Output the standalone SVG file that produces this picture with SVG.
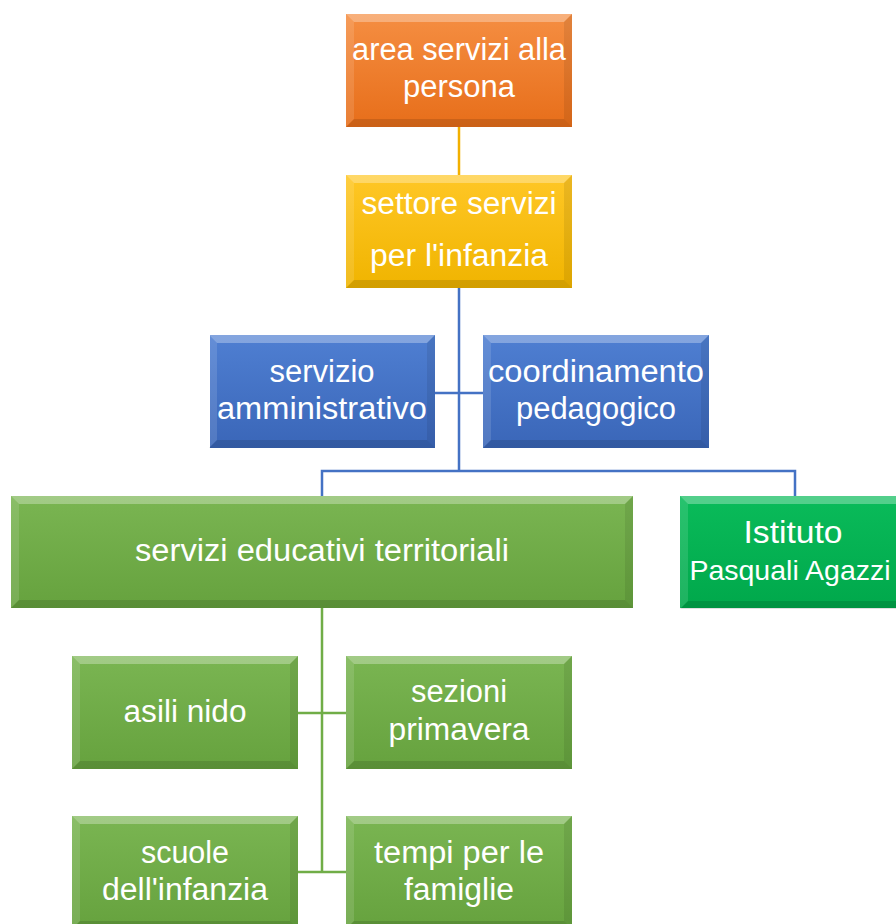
<svg xmlns="http://www.w3.org/2000/svg" xmlns:xlink="http://www.w3.org/1999/xlink" width="896" height="924" viewBox="0 0 896 924">
<style>
.t{font-family:"Liberation Sans","Noto Sans",sans-serif;font-size:31px;fill:#ffffff;text-anchor:middle}
.lb{fill:none;stroke:#4472c4;stroke-width:2.5}
.lg{fill:none;stroke:#70ad47;stroke-width:2.5}
.lo{fill:none;stroke:#f2b000;stroke-width:2.5}
</style>
<defs>
<linearGradient id="gO" x1="0" y1="0" x2="0" y2="1"><stop offset="0" stop-color="#f58e42"/><stop offset="1" stop-color="#e76e1a"/></linearGradient>
<linearGradient id="gY" x1="0" y1="0" x2="0" y2="1"><stop offset="0" stop-color="#ffc726"/><stop offset="1" stop-color="#f0b400"/></linearGradient>
<linearGradient id="gB" x1="0" y1="0" x2="0" y2="1"><stop offset="0" stop-color="#4f7fd2"/><stop offset="1" stop-color="#3a66b8"/></linearGradient>
<linearGradient id="gG" x1="0" y1="0" x2="0" y2="1"><stop offset="0" stop-color="#7ab552"/><stop offset="1" stop-color="#66a23e"/></linearGradient>
<linearGradient id="gI" x1="0" y1="0" x2="0" y2="1"><stop offset="0" stop-color="#0abb5a"/><stop offset="1" stop-color="#00a84b"/></linearGradient>
<g id="bev">
<polygon points="0,0 226,0 218,8 8,8" fill="#ffffff" fill-opacity="0.3"/>
<polygon points="0,0 8,8 8,105 0,113" fill="#ffffff" fill-opacity="0.12"/>
<polygon points="226,0 226,113 218,105 218,8" fill="#000000" fill-opacity="0.08"/>
<polygon points="0,113 8,105 218,105 226,113" fill="#000000" fill-opacity="0.12"/>
</g>
<g id="bevW">
<polygon points="0,0 622,0 614,8 8,8" fill="#ffffff" fill-opacity="0.3"/>
<polygon points="0,0 8,8 8,104 0,112" fill="#ffffff" fill-opacity="0.12"/>
<polygon points="622,0 622,112 614,104 614,8" fill="#000000" fill-opacity="0.08"/>
<polygon points="0,112 8,104 614,104 622,112" fill="#000000" fill-opacity="0.12"/>
</g>
</defs>
<rect width="896" height="924" fill="#ffffff"/>
<g id="connectors">
<path class="lo" d="M459,127 V175"/>
<path class="lb" d="M459,288 V471 M435,393 H483 M322,496 V471 H795 V496"/>
<path class="lg" d="M322,608 V872 M298,713 H346 M298,872 H346"/>
</g>
<g id="n-area">
<rect x="346" y="14" width="226" height="113" fill="url(#gO)"/>
<use href="#bev" x="346" y="14"/>
<text class="t" x="459" y="60" textLength="214" lengthAdjust="spacingAndGlyphs">area servizi alla</text>
<text class="t" x="459" y="97" textLength="112" lengthAdjust="spacingAndGlyphs">persona</text>
</g>
<g id="n-settore">
<rect x="346" y="175" width="226" height="113" fill="url(#gY)"/>
<use href="#bev" x="346" y="175"/>
<text class="t" x="459" y="214" textLength="195" lengthAdjust="spacingAndGlyphs">settore servizi</text>
<text class="t" x="459" y="266" textLength="178" lengthAdjust="spacingAndGlyphs">per l'infanzia</text>
</g>
<g id="n-amm">
<rect x="210" y="335" width="225" height="113" fill="url(#gB)"/>
<use href="#bev" x="209" y="335"/>
<text class="t" x="322" y="382" textLength="105" lengthAdjust="spacingAndGlyphs">servizio</text>
<text class="t" x="322" y="419" textLength="210" lengthAdjust="spacingAndGlyphs">amministrativo</text>
</g>
<g id="n-coord">
<rect x="483" y="335" width="226" height="113" fill="url(#gB)"/>
<use href="#bev" x="483" y="335"/>
<text class="t" x="596" y="382" textLength="216" lengthAdjust="spacingAndGlyphs">coordinamento</text>
<text class="t" x="596" y="419" textLength="160" lengthAdjust="spacingAndGlyphs">pedagogico</text>
</g>
<g id="n-sert">
<rect x="11" y="496" width="622" height="112" fill="url(#gG)"/>
<use href="#bevW" x="11" y="496"/>
<text class="t" x="322" y="561" textLength="374" lengthAdjust="spacingAndGlyphs">servizi educativi territoriali</text>
</g>
<g id="n-istituto">
<rect x="680" y="496" width="226" height="112" fill="url(#gI)"/>
<use href="#bev" x="680" y="496"/>
<text class="t" x="793" y="543" textLength="99" lengthAdjust="spacingAndGlyphs">Istituto</text>
<text class="t" x="790" y="580" style="font-size:28.5px">Pasquali Agazzi</text>
</g>
<g id="n-asili">
<rect x="72" y="656" width="226" height="113" fill="url(#gG)"/>
<use href="#bev" x="72" y="656"/>
<text class="t" x="185" y="722" textLength="123" lengthAdjust="spacingAndGlyphs">asili nido</text>
</g>
<g id="n-sezioni">
<rect x="346" y="656" width="226" height="113" fill="url(#gG)"/>
<use href="#bev" x="346" y="656"/>
<text class="t" x="459" y="702" textLength="96" lengthAdjust="spacingAndGlyphs">sezioni</text>
<text class="t" x="459" y="740" textLength="141" lengthAdjust="spacingAndGlyphs">primavera</text>
</g>
<g id="n-scuole">
<rect x="72" y="816" width="226" height="113" fill="url(#gG)"/>
<use href="#bev" x="72" y="816"/>
<text class="t" x="185" y="863" textLength="88" lengthAdjust="spacingAndGlyphs">scuole</text>
<text class="t" x="185" y="900" textLength="166" lengthAdjust="spacingAndGlyphs">dell'infanzia</text>
</g>
<g id="n-tempi">
<rect x="346" y="816" width="226" height="113" fill="url(#gG)"/>
<use href="#bev" x="346" y="816"/>
<text class="t" x="459" y="863" textLength="170" lengthAdjust="spacingAndGlyphs">tempi per le</text>
<text class="t" x="459" y="900" textLength="110" lengthAdjust="spacingAndGlyphs">famiglie</text>
</g>
</svg>
